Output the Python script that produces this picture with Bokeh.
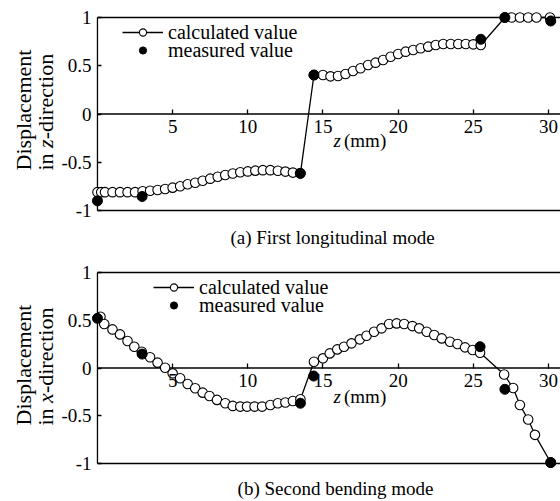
import math
from bokeh.plotting import figure
from bokeh.layouts import column
from bokeh.models import Range1d, FixedTicker, Label, Legend, LegendItem
from bokeh.embed import file_html
from bokeh.resources import INLINE

FONT = "Liberation Serif"

# ---------------- data ----------------
z_ticks = [5, 10, 15, 20, 25, 30]
y_ticks = [-1, -0.5, 0, 0.5, 1]
y_tick_labels = {-1: "-1", -0.5: "-0.5", 0: "0", 0.5: "0.5", 1: "1"}

# (a) first longitudinal mode, displacement in z-direction
calc_a_z = [0, 0.25, 0.5, 1.0, 1.5, 2.0, 2.5, 3.0, 3.5, 4.0, 4.5, 5.0, 5.5, 6.0, 6.5,
            7.0, 7.5, 8.0, 8.5, 9.0, 9.5, 10.0, 10.5, 11.0, 11.5, 12.0, 12.5, 13.0, 13.5,
            14.4, 15.0, 15.5, 16.0, 16.5, 17.0, 17.5, 18.0, 18.5, 19.0, 19.5, 20.0, 20.5,
            21.0, 21.5, 22.0, 22.5, 23.0, 23.5, 24.0, 24.5, 25.0, 25.5,
            27.1, 27.55, 28.1, 28.65, 29.2, 30.1]
calc_a_v = [-0.81, -0.81, -0.81, -0.81, -0.81, -0.81, -0.81, -0.80, -0.795, -0.788, -0.777,
            -0.763, -0.748, -0.728, -0.712, -0.692, -0.670, -0.650, -0.632, -0.617, -0.604,
            -0.595, -0.587, -0.582, -0.582, -0.588, -0.597, -0.607, -0.615,
            0.404, 0.404, 0.39, 0.394, 0.415, 0.446, 0.474, 0.508, 0.532, 0.560, 0.594, 0.622,
            0.646, 0.663, 0.681, 0.698, 0.715, 0.725, 0.725, 0.725, 0.725, 0.722, 0.715,
            1.0, 1.0, 1.0, 1.0, 1.0, 1.0]
meas_a_z = [0, 2.97, 13.49, 14.4, 25.5, 27.1, 30.15]
meas_a_v = [-0.90, -0.855, -0.615, 0.404, 0.774, 1.0, 0.964]

# (b) second bending mode, displacement in x-direction
calc_b_z = [0.2, 0.45, 1.0, 1.5, 2.0, 2.45, 2.95, 3.5, 4.0, 4.5, 5.0, 5.5, 6.0, 6.5, 7.0,
            7.45, 7.95, 8.5, 9.0, 9.5, 9.95, 10.45, 10.95, 11.5, 12.0, 12.5, 13.0, 13.5,
            14.4, 15.0, 15.45, 15.95, 16.4, 16.9, 17.45, 17.9, 18.4, 18.9, 19.4, 19.9, 20.4,
            20.95, 21.4, 21.9, 22.4, 22.9, 23.45, 23.95, 24.45, 24.95, 25.45,
            27.05, 27.65, 28.1, 28.65, 29.1, 30.15]
calc_b_v = [0.536, 0.46, 0.404, 0.352, 0.282, 0.223, 0.17, 0.112, 0.056, 0.003, -0.056,
            -0.108, -0.167, -0.212, -0.258, -0.293, -0.334, -0.369, -0.397, -0.404, -0.404,
            -0.404, -0.404, -0.387, -0.369, -0.362, -0.345, -0.327,
            0.066, 0.101, 0.153, 0.195, 0.223, 0.258, 0.30, 0.338, 0.38, 0.415, 0.46, 0.467,
            0.46, 0.439, 0.415, 0.38, 0.345, 0.31, 0.275, 0.251, 0.216, 0.188, 0.16,
            -0.068, -0.21, -0.387, -0.54, -0.70, -0.99]
meas_b_z = [0, 2.97, 13.5, 14.38, 25.45, 27.1, 30.15]
meas_b_v = [0.52, 0.146, -0.369, -0.084, 0.223, -0.223, -0.99]

# x range spans the whole canvas so that texts around the box stay inside the frame
X_START, X_END = -6.45, 30.8
Y_LO, Y_HI = -1.0, 1.0


def make_panel(cz, cv, mz, mv, height, y_start, y_end,
               leg_x, leg_y1, leg_y2, caption, cap_x, cap_y, zl_x, zl_y,
               ytitle_var, yt_y):
    p = figure(width=560, height=height, output_backend="svg", toolbar_location=None,
               x_range=Range1d(X_START, X_END), y_range=Range1d(y_start, y_end),
               min_border=0, min_border_left=0, min_border_right=0,
               min_border_top=0, min_border_bottom=0)
    p.outline_line_color = None
    p.grid.visible = False
    p.background_fill_color = "white"
    p.border_fill_color = "white"

    # axes drawn through the origin
    xa = p.xaxis[0]
    xa.fixed_location = 0
    xa.ticker = FixedTicker(ticks=z_ticks)
    xa.axis_line_color = None
    xa.major_tick_in = 5
    xa.major_tick_out = 0
    xa.minor_tick_in = 0
    xa.minor_tick_out = 0
    xa.major_tick_line_color = "black"
    xa.major_tick_line_width = 1.3
    xa.major_label_standoff = 6
    xa.major_label_text_font = FONT
    xa.major_label_text_font_size = "19px"
    xa.major_label_text_color = "black"

    ya = p.yaxis[0]
    ya.fixed_location = 0
    ya.ticker = FixedTicker(ticks=y_ticks)
    ya.major_label_overrides = y_tick_labels
    ya.axis_line_color = None
    ya.major_tick_in = 4
    ya.major_tick_out = 0
    ya.minor_tick_in = 0
    ya.minor_tick_out = 0
    ya.major_tick_line_color = "black"
    ya.major_tick_line_width = 1.3
    ya.major_label_standoff = 6
    ya.major_label_text_font = FONT
    ya.major_label_text_font_size = "19px"
    ya.major_label_text_color = "black"

    # box lines: left, top, bottom and the zero line
    p.segment(x0=[0, 0, 0, 0], y0=[Y_LO, Y_HI, Y_LO, 0],
              x1=[0, X_END, X_END, X_END], y1=[Y_HI, Y_HI, Y_LO, 0],
              line_color="black", line_width=1.3)

    lr = p.line(cz, cv, line_color="black", line_width=1.3)
    orr = p.scatter(cz, cv, marker="circle", size=9.5, fill_color="white",
                    line_color="black", line_width=1.1)
    fr = p.scatter(mz, mv, marker="circle", size=10, fill_color="black",
                   line_color="black", line_width=1)

    for items, ly in (([LegendItem(label="calculated value", renderers=[lr, orr])], leg_y1),
                      ([LegendItem(label="measured value", renderers=[fr])], leg_y2)):
        leg = Legend(items=items, location=(leg_x, ly))
        leg.border_line_color = None
        leg.background_fill_alpha = 0
        leg.padding = 0
        leg.margin = 0
        leg.spacing = 0
        leg.glyph_width = 41
        leg.glyph_height = 18
        leg.label_height = 18
        leg.label_standoff = 5
        leg.label_text_font = FONT
        leg.label_text_font_size = "20px"
        leg.label_text_color = "black"
        p.add_layout(leg)

    # caption under the panel
    p.add_layout(Label(x=cap_x, y=cap_y, x_units="screen", y_units="screen",
                       text=caption, text_font=FONT, text_font_size="19px",
                       text_align="center", text_baseline="middle", text_color="black"))
    # axis title z (mm)
    p.add_layout(Label(x=zl_x, y=zl_y, x_units="screen", y_units="screen", text="z",
                       text_font=FONT, text_font_style="italic", text_font_size="19px",
                       text_align="left", text_baseline="middle", text_color="black"))
    p.add_layout(Label(x=zl_x + 10.5, y=zl_y, x_units="screen", y_units="screen",
                       text="(mm)", text_font=FONT, text_font_size="19px",
                       text_align="left", text_baseline="middle", text_color="black"))
    # rotated y title, two lines
    fs = 22
    rot = math.pi / 2
    p.add_layout(Label(x=22.5, y=yt_y, x_units="screen", y_units="screen",
                       text="Displacement", angle=rot, text_font=FONT,
                       text_font_size=f"{fs}px", text_align="left",
                       text_baseline="middle", text_color="black"))
    w_in = (0.278 + 0.5 + 0.25) * fs
    w_var = (0.389 if ytitle_var == "z" else 0.444) * fs
    p.add_layout(Label(x=44.5, y=yt_y, x_units="screen", y_units="screen",
                       text="in", angle=rot, text_font=FONT,
                       text_font_size=f"{fs}px", text_align="left",
                       text_baseline="middle", text_color="black"))
    p.add_layout(Label(x=44.5, y=yt_y + w_in, x_units="screen", y_units="screen",
                       text=ytitle_var, angle=rot, text_font=FONT, text_font_style="italic",
                       text_font_size=f"{fs}px", text_align="left",
                       text_baseline="middle", text_color="black"))
    p.add_layout(Label(x=44.5, y=yt_y + w_in + w_var, x_units="screen", y_units="screen",
                       text="-direction", angle=rot, text_font=FONT,
                       text_font_size=f"{fs}px", text_align="left",
                       text_baseline="middle", text_color="black"))
    return p


p1 = make_panel(calc_a_z, calc_a_v, meas_a_z, meas_a_v, height=250,
                y_start=-1.4145, y_end=1.1762, leg_x=122, leg_y1=206.5, leg_y2=188.5,
                caption="(a) First longitudinal mode", cap_x=332, cap_y=13,
                zl_x=333, zl_y=110, ytitle_var="z", yt_y=80)
p2 = make_panel(calc_b_z, calc_b_v, meas_b_z, meas_b_v, height=251,
                y_start=-1.3979, y_end=1.2304, leg_x=153, leg_y1=202.5, leg_y2=184.5,
                caption="(b) Second bending mode", cap_x=335, cap_y=13,
                zl_x=333, zl_y=105, ytitle_var="x", yt_y=76)

layout = column(p1, p2, spacing=0)
open("out.html", "w").write(file_html(layout, INLINE))
